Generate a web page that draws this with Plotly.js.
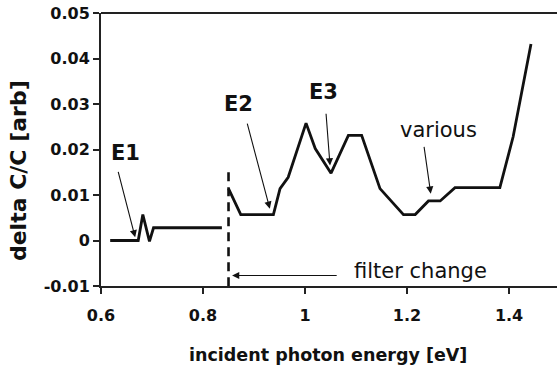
<!DOCTYPE html>
<html>
<head>
<meta charset="utf-8">
<script src="https://cdn.plot.ly/plotly-3.0.1.min.js"></script>
<style>html,body{margin:0;padding:0;background:#fff;}#chart{width:557px;height:365px;}</style>
</head>
<body>
<div id="chart"></div>
<script>
// Spectrum segment before the filter change
const energyLow = [0.618, 0.673, 0.682, 0.695, 0.703, 0.837];
const signalLow = [0.0, 0.0, 0.0057, -0.0002, 0.0028, 0.0028];
// Spectrum segment after the filter change
const energyHigh = [0.850, 0.874, 0.938, 0.951, 0.967, 1.002, 1.020, 1.051, 1.085, 1.111, 1.147, 1.193, 1.216, 1.242, 1.265, 1.294, 1.382, 1.408, 1.443];
const signalHigh = [0.0114, 0.0057, 0.0057, 0.0114, 0.0139, 0.0258, 0.0202, 0.0148, 0.0231, 0.0231, 0.0114, 0.0057, 0.0057, 0.0087, 0.0087, 0.0116, 0.0116, 0.0228, 0.0432];
// Filter change marker
const filterX = [0.85, 0.85];
const filterY = [0.015, -0.01];
// Tick labels
const xTickVals = [0.6, 0.8, 1.0, 1.2, 1.4];
const xTickText = ['0.6', '0.8', '1', '1.2', '1.4'];
const yTickVals = [-0.01, 0, 0.01, 0.02, 0.03, 0.04, 0.05];
const yTickText = ['-0.01', '0', '0.01', '0.02', '0.03', '0.04', '0.05'];
// Peak labels and their arrows
const labelText = ['E1', 'E2', 'E3', 'various'];
const labelX = [0.649, 0.869, 1.037, 1.261];
const labelY = [0.0192, 0.0300, 0.0326, 0.0242];
const arrowTailX = [0.633, 0.886, 1.041, 1.233];
const arrowTailY = [0.0154, 0.0260, 0.0282, 0.0209];
const arrowTipX = [0.667, 0.931, 1.049, 1.2465];
const arrowTipY = [0.0007, 0.0070, 0.0165, 0.0103];

const lineStyle = {color: '#111', width: 2.8};
const traces = [
  {x: energyLow, y: signalLow, mode: 'lines', line: lineStyle, hoverinfo: 'skip'},
  {x: energyHigh, y: signalHigh, mode: 'lines', line: lineStyle, hoverinfo: 'skip'},
  {x: filterX, y: filterY, mode: 'lines', line: {color: '#111', width: 2.6, dash: '9px,6px'}, hoverinfo: 'skip'}
];

const boldFont = {family: 'DejaVu Sans', size: 16, color: '#111', weight: 'bold'};
const annotations = [];
for (let i = 0; i < labelText.length; i++) {
  const isBold = labelText[i] !== 'various';
  annotations.push({
    x: labelX[i], y: labelY[i], xref: 'x', yref: 'y', text: labelText[i], showarrow: false,
    font: {family: 'DejaVu Sans', size: 21, color: '#111', weight: isBold ? 'bold' : 'normal'}
  });
  annotations.push({
    x: arrowTipX[i], y: arrowTipY[i], ax: arrowTailX[i], ay: arrowTailY[i],
    xref: 'x', yref: 'y', axref: 'x', ayref: 'y', text: '', showarrow: true,
    arrowhead: 2, arrowsize: 1.3, arrowwidth: 1.1, arrowcolor: '#111'
  });
}
annotations.push({x: 1.2255, y: -0.0066, xref: 'x', yref: 'y', text: 'filter change', showarrow: false,
  font: {family: 'DejaVu Sans', size: 21, color: '#111'}});
annotations.push({x: 0.857, y: -0.0077, ax: 1.065, ay: -0.0077, xref: 'x', yref: 'y', axref: 'x', ayref: 'y',
  text: '', showarrow: true, arrowhead: 2, arrowsize: 1.3, arrowwidth: 1.1, arrowcolor: '#111'});
annotations.push({x: -0.182, y: 0.421, xref: 'paper', yref: 'paper', xanchor: 'center', yanchor: 'middle',
  text: 'delta C/C [arb]', showarrow: false, textangle: -90,
  font: {family: 'DejaVu Sans', size: 22, color: '#111', weight: 'bold'}});
annotations.push({x: 0.498, y: -0.2527, xref: 'paper', yref: 'paper', xanchor: 'center', yanchor: 'middle',
  text: 'incident photon energy [eV]', showarrow: false,
  font: {family: 'DejaVu Sans', size: 17.5, color: '#111', weight: 'bold'}});

const layout = {
  width: 557, height: 365,
  margin: {l: 101, r: 0, t: 13, b: 79},
  paper_bgcolor: '#fff', plot_bgcolor: '#fff',
  showlegend: false,
  xaxis: {
    range: [0.6, 1.494], tickvals: xTickVals, ticktext: xTickText,
    showgrid: false, zeroline: false, showline: true, linecolor: '#222', linewidth: 2,
    ticks: 'outside', ticklen: 6, tickwidth: 2, tickcolor: '#222',
    ticklabelstandoff: 8,
    tickfont: boldFont
  },
  yaxis: {
    range: [-0.01, 0.05], tickvals: yTickVals, ticktext: yTickText,
    showgrid: false, zeroline: false, showline: true, linecolor: '#222', linewidth: 2,
    ticks: 'outside', ticklen: 6, tickwidth: 2, tickcolor: '#222',
    tickfont: boldFont
  },
  shapes: [{type: 'line', xref: 'paper', yref: 'paper', x0: 0, x1: 1, y0: 1, y1: 1, line: {color: '#222', width: 2}}],
  annotations: annotations
};
Plotly.newPlot('chart', traces, layout, {displayModeBar: false, staticPlot: true});
</script>
</body>
</html>
